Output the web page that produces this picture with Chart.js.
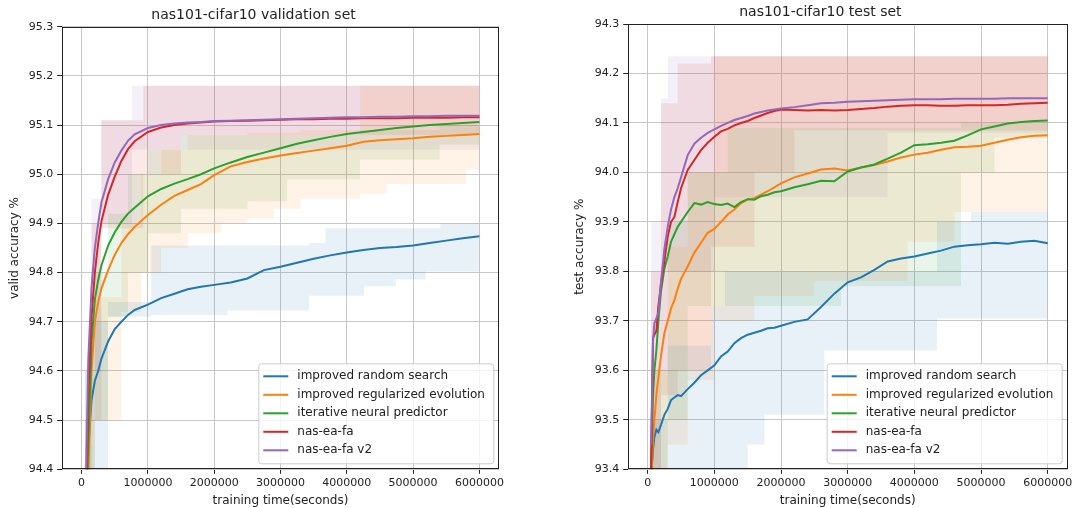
<!DOCTYPE html>
<html>
<head>
<meta charset="utf-8">
<script src="https://cdn.jsdelivr.net/npm/chart.js@4"></script>
<style>
html, body { margin: 0; padding: 0; background: #fff; }
#wrap { position: relative; width: 1075px; height: 508px; overflow: hidden; }
canvas { position: absolute; top: 0; }
#validChart { left: 0; }
#testChart { left: 540px; }
</style>
</head>
<body>
<div id="wrap">
<canvas id="validChart" width="540" height="508"></canvas>
<canvas id="testChart" width="535" height="508"></canvas>
</div>
<script>
const seriesNames = ["improved random search", "improved regularized evolution", "iterative neural predictor", "nas-ea-fa", "nas-ea-fa v2"];
const seriesColors = ["#1f77b4", "#ff7f0e", "#2ca02c", "#d62728", "#9467bd"];
const bandColors = ["rgba(31,119,180,0.1)", "rgba(255,127,14,0.1)", "rgba(44,160,44,0.1)", "rgba(214,39,40,0.1)", "rgba(148,103,189,0.1)"];

const xTicks = [0, 1000000, 2000000, 3000000, 4000000, 5000000, 6000000];
const validYTicks = [94.4, 94.5, 94.6, 94.7, 94.8, 94.9, 95.0, 95.1, 95.2, 95.3];
const testYTicks = [93.4, 93.5, 93.6, 93.7, 93.8, 93.9, 94.0, 94.1, 94.2, 94.3];

// validation set, mean curves
const validTime = [50000, 100000, 150000, 200000, 250000, 300000, 400000, 500000, 600000, 700000, 800000, 1000000, 1200000, 1400000, 1600000, 1800000, 2000000, 2250000, 2500000, 2750000, 3000000, 3250000, 3500000, 3750000, 4000000, 4250000, 4500000, 4750000, 5000000, 5250000, 5500000, 5750000, 6000000];
const validRandom = [94.2, 94.44, 94.54, 94.58, 94.6, 94.625, 94.66, 94.685, 94.7, 94.714, 94.724, 94.735, 94.748, 94.757, 94.766, 94.771, 94.775, 94.78, 94.788, 94.805, 94.812, 94.82, 94.828, 94.835, 94.841, 94.846, 94.85, 94.852, 94.855, 94.86, 94.865, 94.87, 94.874];
const validEvolution = [94.2, 94.38, 94.6, 94.7, 94.74, 94.768, 94.805, 94.836, 94.86, 94.878, 94.893, 94.917, 94.938, 94.956, 94.968, 94.98, 94.998, 95.016, 95.025, 95.032, 95.038, 95.043, 95.048, 95.053, 95.058, 95.066, 95.069, 95.071, 95.073, 95.076, 95.078, 95.08, 95.082];
const validPredictor = [94.2, 94.45, 94.66, 94.745, 94.785, 94.815, 94.855, 94.882, 94.903, 94.92, 94.932, 94.955, 94.97, 94.981, 94.99, 95.0, 95.012, 95.024, 95.035, 95.044, 95.053, 95.062, 95.069, 95.076, 95.082, 95.086, 95.09, 95.094, 95.097, 95.1, 95.102, 95.104, 95.106];
const validNasEaFa = [94.2, 94.55, 94.71, 94.8, 94.86, 94.905, 94.958, 94.995, 95.027, 95.051, 95.067, 95.086, 95.095, 95.1, 95.103, 95.105, 95.107, 95.108, 95.109, 95.11, 95.111, 95.112, 95.112, 95.113, 95.113, 95.114, 95.114, 95.114, 95.115, 95.115, 95.115, 95.116, 95.116];
const validNasEaFaV2 = [94.25, 94.62, 94.77, 94.85, 94.9, 94.943, 94.99, 95.024, 95.048, 95.068, 95.081, 95.094, 95.1, 95.103, 95.105, 95.106, 95.108, 95.109, 95.11, 95.111, 95.112, 95.113, 95.114, 95.115, 95.116, 95.116, 95.117, 95.117, 95.118, 95.118, 95.119, 95.119, 95.119];

// validation set, shaded bands (step edges, value holds until the next time)
const validRandomBandTime = [50000, 150000, 400000, 1050000, 2200000, 3430000, 3680000, 4260000, 4740000, 5190000, 5410000, 6000000];
const validRandomBandHigh = [94.45, 94.7, 94.74, 94.855, 94.855, 94.86, 94.89, 94.89, 94.89, 94.89, 94.9, 94.91];
const validRandomBandLow = [94.2, 94.3, 94.71, 94.714, 94.723, 94.753, 94.753, 94.772, 94.786, 94.802, 94.802, 94.802];
const validEvolutionBandTime = [50000, 200000, 600000, 900000, 1200000, 1600000, 2100000, 2500000, 2900000, 3300000, 4200000, 4600000, 5800000, 6000000];
const validEvolutionBandHigh = [94.5, 94.75, 94.9, 95.0, 95.05, 95.08, 95.08, 95.085, 95.085, 95.09, 95.18, 95.18, 95.18, 95.18];
const validEvolutionBandLow = [94.2, 94.5, 94.72, 94.8, 94.85, 94.88, 94.9, 94.91, 94.93, 94.95, 94.96, 94.98, 95.01, 95.01];
const validPredictorBandTime = [50000, 200000, 400000, 700000, 1000000, 1500000, 2500000, 3100000, 4200000, 5400000, 6000000];
const validPredictorBandHigh = [94.6, 94.8, 94.92, 95.0, 95.05, 95.08, 95.08, 95.08, 95.09, 95.1, 95.1];
const validPredictorBandLow = [94.2, 94.5, 94.71, 94.8, 94.88, 94.93, 94.945, 94.99, 95.03, 95.06, 95.06];
const validNasEaFaBandTime = [50000, 150000, 300000, 930000, 1500000, 6000000];
const validNasEaFaBandHigh = [94.5, 94.9, 95.11, 95.18, 95.18, 95.18];
const validNasEaFaBandLow = [94.2, 94.5, 94.89, 95.0, 95.08, 95.08];
const validNasEaFaV2BandTime = [50000, 150000, 290000, 760000, 6000000];
const validNasEaFaV2BandHigh = [94.6, 94.95, 95.11, 95.18, 95.18];
const validNasEaFaV2BandLow = [94.3, 94.6, 94.9, 95.05, 95.1];

// test set, mean curves
const testTime = [50000, 80000, 100000, 130000, 160000, 200000, 250000, 300000, 350000, 400000, 450000, 500000, 600000, 700000, 800000, 900000, 1000000, 1100000, 1200000, 1300000, 1400000, 1500000, 1600000, 1700000, 1800000, 1900000, 2000000, 2200000, 2400000, 2600000, 2800000, 3000000, 3200000, 3400000, 3600000, 3800000, 4000000, 4200000, 4400000, 4600000, 4800000, 5000000, 5200000, 5400000, 5600000, 5800000, 6000000];
const testRandom = [93.38, 93.44, 93.465, 93.48, 93.475, 93.49, 93.51, 93.522, 93.54, 93.545, 93.55, 93.548, 93.562, 93.575, 93.59, 93.6, 93.61, 93.628, 93.638, 93.655, 93.665, 93.672, 93.676, 93.68, 93.685, 93.686, 93.69, 93.698, 93.703, 93.728, 93.755, 93.778, 93.788, 93.803, 93.82, 93.826, 93.83, 93.836, 93.842, 93.85, 93.853, 93.855, 93.858, 93.856, 93.86, 93.862, 93.857];
const testEvolution = [93.37, 93.46, 93.5, 93.55, 93.585, 93.63, 93.675, 93.7, 93.725, 93.742, 93.765, 93.785, 93.81, 93.838, 93.858, 93.878, 93.886, 93.9, 93.915, 93.925, 93.938, 93.945, 93.948, 93.955, 93.962, 93.97, 93.978, 93.99, 93.998, 94.006, 94.008, 94.004, 94.01, 94.015, 94.022, 94.03, 94.036, 94.04, 94.046, 94.051, 94.052, 94.054, 94.06, 94.066, 94.071, 94.074, 94.075];
const testPredictor = [93.4, 93.55, 93.6, 93.64, 93.7, 93.76, 93.805, 93.83, 93.86, 93.875, 93.89, 93.9, 93.92, 93.938, 93.935, 93.94, 93.936, 93.934, 93.937, 93.93, 93.94, 93.946, 93.945, 93.952, 93.955, 93.96, 93.962, 93.97, 93.976, 93.983, 93.982, 94.002, 94.01, 94.016, 94.028, 94.04, 94.055, 94.057, 94.06, 94.064, 94.075, 94.087, 94.093, 94.099, 94.102, 94.104, 94.105];
const testNasEaFa = [93.4, 93.665, 93.672, 93.68, 93.73, 93.775, 93.82, 93.87, 93.9, 93.91, 93.94, 93.968, 94.005, 94.025, 94.045, 94.06, 94.072, 94.083, 94.088, 94.095, 94.1, 94.104, 94.11, 94.115, 94.12, 94.124, 94.127, 94.126, 94.125, 94.126, 94.125, 94.126, 94.128, 94.13, 94.133, 94.135, 94.136, 94.136, 94.135, 94.135, 94.136, 94.136, 94.136, 94.137, 94.139, 94.14, 94.141];
const testNasEaFaV2 = [93.45, 93.66, 93.695, 93.705, 93.715, 93.78, 93.845, 93.89, 93.925, 93.95, 93.968, 93.99, 94.035, 94.058, 94.07, 94.08, 94.087, 94.094, 94.1, 94.106, 94.11, 94.114, 94.119, 94.122, 94.125, 94.127, 94.129, 94.132, 94.136, 94.14, 94.141, 94.143, 94.144, 94.145, 94.146, 94.147, 94.148, 94.148, 94.148, 94.149, 94.149, 94.149, 94.149, 94.15, 94.15, 94.15, 94.15];

// test set, shaded bands (step edges, value holds until the next time)
const testRandomBandTime = [50000, 300000, 950000, 1160000, 1500000, 1750000, 2650000, 4340000, 4850000, 6000000];
const testRandomBandHigh = [93.5, 93.65, 93.73, 93.8, 93.8, 93.8, 93.8, 93.9, 93.92, 93.92];
const testRandomBandLow = [93.2, 93.3, 93.3, 93.3, 93.45, 93.51, 93.64, 93.705, 93.705, 93.705];
const testEvolutionBandTime = [50000, 300000, 600000, 1000000, 1600000, 2500000, 3900000, 4600000, 6000000];
const testEvolutionBandHigh = [93.6, 93.85, 94.0, 94.235, 94.235, 94.235, 94.235, 94.235, 94.235];
const testEvolutionBandLow = [93.3, 93.45, 93.58, 93.7, 93.75, 93.78, 93.86, 93.92, 93.92];
const testPredictorBandTime = [50000, 300000, 600000, 1200000, 2900000, 3950000, 4700000, 5200000, 6000000];
const testPredictorBandHigh = [93.6, 93.9, 94.0, 94.09, 94.09, 94.09, 94.1, 94.1, 94.1];
const testPredictorBandLow = [93.3, 93.5, 93.73, 93.73, 93.77, 93.77, 94.0, 94.07, 94.07];
const testNasEaFaBandTime = [50000, 200000, 450000, 950000, 1600000, 2200000, 6000000];
const testNasEaFaBandHigh = [93.8, 94.14, 94.22, 94.235, 94.235, 94.235, 94.235];
const testNasEaFaBandLow = [93.3, 93.55, 93.6, 93.85, 94.0, 94.085, 94.085];
const testNasEaFaV2BandTime = [50000, 200000, 300000, 1000000, 3600000, 6000000];
const testNasEaFaV2BandHigh = [93.9, 94.15, 94.235, 94.235, 94.235, 94.235];
const testNasEaFaV2BandLow = [93.3, 93.6, 93.8, 93.95, 94.08, 94.08];

Chart.defaults.font.family = '"DejaVu Sans", sans-serif';
Chart.defaults.color = "#222";

const pts = (t, v) => t.map((x, i) => ({ x: x, y: v[i] }));

// top/right spines like matplotlib
const frame = {
    id: "frame",
    afterDatasetsDraw(chart) {
        const { ctx, chartArea: a } = chart;
        const l = Math.round(a.left) + 0.5, r = Math.round(a.right) - 0.5;
        const t = Math.round(a.top) + 0.5, b = Math.round(a.bottom) - 0.5;
        ctx.save();
        ctx.strokeStyle = "#222";
        ctx.lineWidth = 1;
        ctx.strokeRect(l, t, r - l, b - t);
        ctx.restore();
    }
};

// legend box in the lower right corner of the plot
const cornerLegend = {
    id: "cornerLegend",
    afterDraw(chart) {
        const { ctx, chartArea: a } = chart;
        const items = chart.data.datasets.filter(d => !d.band);
        const rowH = 18.5, padY = 13, w = 235;
        const h = rowH * (items.length - 1) + padY * 2;
        const x = a.right - 6 - w, y = a.bottom - 6 - h;
        ctx.save();
        ctx.beginPath();
        ctx.roundRect(x + 0.5, y + 0.5, w, h, 3);
        ctx.fillStyle = "rgba(255,255,255,0.8)";
        ctx.fill();
        ctx.strokeStyle = "#cccccc";
        ctx.lineWidth = 1;
        ctx.stroke();
        ctx.font = '12px "DejaVu Sans"';
        ctx.textBaseline = "middle";
        items.forEach((d, i) => {
            const cy = y + padY + i * rowH;
            ctx.beginPath();
            ctx.moveTo(x + 5, cy);
            ctx.lineTo(x + 30, cy);
            ctx.strokeStyle = d.borderColor;
            ctx.lineWidth = 2;
            ctx.stroke();
            ctx.fillStyle = "#222";
            ctx.fillText(d.label, x + 39, cy);
        });
        ctx.restore();
    }
};

function makeChart(id, opt) {
    const datasets = [];
    opt.bands.forEach((b, i) => {
        datasets.push({ band: true, data: pts(b[0], b[2]), borderWidth: 0, pointRadius: 0, fill: false, stepped: true, order: 10 });
        datasets.push({ band: true, data: pts(b[0], b[1]), borderWidth: 0, pointRadius: 0, fill: "-1", backgroundColor: bandColors[i], stepped: true, order: 10 });
    });
    opt.lines.forEach((v, i) => {
        datasets.push({
            label: seriesNames[i],
            data: pts(opt.time, v),
            borderColor: seriesColors[i],
            backgroundColor: seriesColors[i],
            borderWidth: 2,
            pointRadius: 0,
            fill: false,
            tension: 0,
            order: 5 - i
        });
    });

    const gridStyle = { color: "#c8c8c8", lineWidth: 1, tickColor: "#222", tickLength: 4.5, tickWidth: 1 };

    return new Chart(document.getElementById(id), {
        type: "line",
        data: { datasets: datasets },
        options: {
            responsive: false,
            animation: false,
            devicePixelRatio: 1,
            layout: { padding: { left: opt.padLeft, right: opt.padRight, top: 0, bottom: 0 } },
            plugins: {
                legend: { display: false },
                tooltip: { enabled: false },
                title: {
                    display: true,
                    text: opt.title,
                    font: { size: 14, weight: "normal" },
                    color: "#222",
                    padding: { top: opt.titleTop, bottom: opt.titleBottom }
                }
            },
            scales: {
                x: {
                    type: "linear",
                    min: -300000,
                    max: 6300000,
                    bounds: "data",
                    afterBuildTicks: s => { s.ticks = xTicks.map(v => ({ value: v })); },
                    afterFit: s => { s.height = 38.7; },
                    ticks: { callback: v => String(v), font: { size: 11 }, padding: 2.5, maxRotation: 0, autoSkip: false },
                    grid: gridStyle,
                    border: { display: false },
                    title: { display: true, text: "training time(seconds)", font: { size: 12 }, padding: 0 }
                },
                y: {
                    type: "linear",
                    min: opt.yTicks[0],
                    max: opt.yTicks[opt.yTicks.length - 1],
                    afterBuildTicks: s => { s.ticks = opt.yTicks.map(v => ({ value: v })); },
                    afterFit: s => { s.width = opt.yWidth; },
                    ticks: { callback: v => Number(v).toFixed(1), font: { size: 11 }, padding: 4, autoSkip: false },
                    grid: gridStyle,
                    border: { display: false },
                    title: { display: true, text: opt.yLabel, font: { size: 12 }, padding: 0 }
                }
            }
        },
        plugins: [frame, cornerLegend]
    });
}

makeChart("validChart", {
    title: "nas101-cifar10 validation set",
    yLabel: "valid accuracy %",
    yTicks: validYTicks,
    time: validTime,
    lines: [validRandom, validEvolution, validPredictor, validNasEaFa, validNasEaFaV2],
    bands: [
        [validRandomBandTime, validRandomBandHigh, validRandomBandLow],
        [validEvolutionBandTime, validEvolutionBandHigh, validEvolutionBandLow],
        [validPredictorBandTime, validPredictorBandHigh, validPredictorBandLow],
        [validNasEaFaBandTime, validNasEaFaBandHigh, validNasEaFaBandLow],
        [validNasEaFaV2BandTime, validNasEaFaV2BandHigh, validNasEaFaV2BandLow]
    ],
    padLeft: 7.8,
    padRight: 40.7,
    yWidth: 53.9,
    titleTop: 6.6,
    titleBottom: 3.3
});

makeChart("testChart", {
    title: "nas101-cifar10 test set",
    yLabel: "test accuracy %",
    yTicks: testYTicks,
    time: testTime,
    lines: [testRandom, testEvolution, testPredictor, testNasEaFa, testNasEaFaV2],
    bands: [
        [testRandomBandTime, testRandomBandHigh, testRandomBandLow],
        [testEvolutionBandTime, testEvolutionBandHigh, testEvolutionBandLow],
        [testPredictorBandTime, testPredictorBandHigh, testPredictorBandLow],
        [testNasEaFaBandTime, testNasEaFaBandHigh, testNasEaFaBandLow],
        [testNasEaFaV2BandTime, testNasEaFaV2BandHigh, testNasEaFaV2BandLow]
    ],
    padLeft: 32.8,
    padRight: 7,
    yWidth: 54.9,
    titleTop: 4.1,
    titleBottom: 3.1
});
</script>
</body>
</html>
